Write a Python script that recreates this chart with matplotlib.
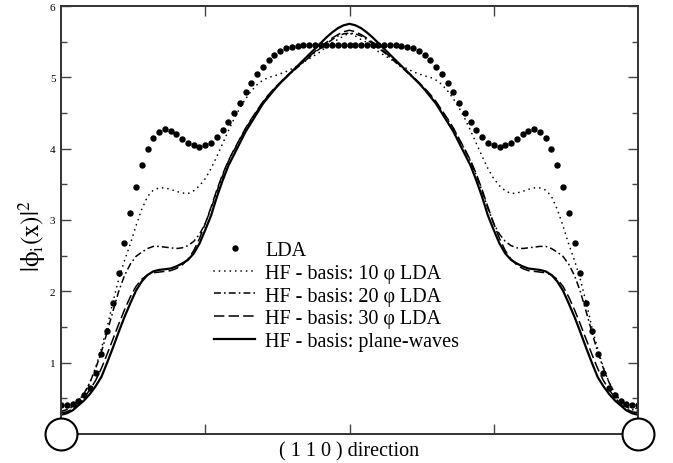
import numpy as np
import matplotlib
matplotlib.use("Agg")
import matplotlib.pyplot as plt

plt.rcParams['font.family'] = ['Liberation Serif', 'DejaVu Serif']
plt.rcParams['mathtext.fontset'] = 'stix'
plt.rcParams['lines.scale_dashes'] = False

# |phi_i(x)|^2 along the (1 1 0) direction, 101 samples from one atom to the next
lda = [0.41, 0.41, 0.42, 0.46, 0.54, 0.65, 0.85, 1.12, 1.45, 1.83,
       2.26, 2.68, 3.10, 3.46, 3.77, 3.99, 4.15, 4.23, 4.27, 4.25,
       4.21, 4.14, 4.08, 4.05, 4.03, 4.05, 4.08, 4.16, 4.26, 4.37,
       4.50, 4.64, 4.79, 4.92, 5.04, 5.15, 5.24, 5.32, 5.37, 5.41,
       5.43, 5.44, 5.45, 5.46, 5.46, 5.46, 5.46, 5.46, 5.46, 5.46,
       5.46,
       5.46, 5.46, 5.46, 5.46, 5.46, 5.46, 5.46, 5.45, 5.44, 5.43,
       5.41, 5.37, 5.32, 5.24, 5.15, 5.04, 4.92, 4.79, 4.64, 4.50,
       4.37, 4.26, 4.16, 4.08, 4.05, 4.03, 4.05, 4.08, 4.14, 4.21,
       4.25, 4.27, 4.23, 4.15, 3.99, 3.77, 3.46, 3.10, 2.68, 2.26,
       1.83, 1.45, 1.12, 0.85, 0.65, 0.54, 0.46, 0.42, 0.41, 0.41]

hf10 = [0.35, 0.37, 0.40, 0.47, 0.56, 0.72, 0.93, 1.20, 1.50, 1.85,
        2.17, 2.43, 2.66, 2.92, 3.15, 3.33, 3.42, 3.45, 3.45, 3.43,
        3.40, 3.38, 3.37, 3.41, 3.48, 3.58, 3.72, 3.89, 4.07, 4.25,
        4.42, 4.57, 4.70, 4.81, 4.90, 4.96, 5.00, 5.02, 5.05, 5.08,
        5.12, 5.16, 5.21, 5.26, 5.31, 5.36, 5.43, 5.49, 5.53, 5.58,
        5.62,
        5.58, 5.53, 5.49, 5.43, 5.36, 5.31, 5.26, 5.21, 5.16, 5.12,
        5.08, 5.05, 5.02, 5.00, 4.96, 4.90, 4.81, 4.70, 4.57, 4.42,
        4.25, 4.07, 3.89, 3.72, 3.58, 3.48, 3.41, 3.37, 3.38, 3.40,
        3.43, 3.45, 3.45, 3.42, 3.33, 3.15, 2.92, 2.66, 2.43, 2.17,
        1.85, 1.50, 1.20, 0.93, 0.72, 0.56, 0.47, 0.40, 0.37, 0.35]

hf20 = [0.32, 0.34, 0.38, 0.46, 0.57, 0.72, 0.92, 1.15, 1.43, 1.72,
        2.00, 2.22, 2.38, 2.49, 2.55, 2.60, 2.63, 2.63, 2.62, 2.61,
        2.60, 2.61, 2.64, 2.70, 2.80, 2.95, 3.16, 3.40, 3.62, 3.82,
        3.98, 4.13, 4.28, 4.41, 4.53, 4.65, 4.75, 4.84, 4.92, 5.00,
        5.07, 5.14, 5.21, 5.28, 5.35, 5.41, 5.47, 5.53, 5.58, 5.61,
        5.62,
        5.61, 5.58, 5.53, 5.47, 5.41, 5.35, 5.28, 5.21, 5.14, 5.07,
        5.00, 4.92, 4.84, 4.75, 4.65, 4.53, 4.41, 4.28, 4.13, 3.98,
        3.82, 3.62, 3.40, 3.16, 2.95, 2.80, 2.70, 2.64, 2.61, 2.60,
        2.61, 2.62, 2.63, 2.63, 2.60, 2.55, 2.49, 2.38, 2.22, 2.00,
        1.72, 1.43, 1.15, 0.92, 0.72, 0.57, 0.46, 0.38, 0.34, 0.32]

hf30 = [0.30, 0.31, 0.35, 0.42, 0.51, 0.62, 0.75, 0.92, 1.12, 1.33,
        1.54, 1.74, 1.92, 2.07, 2.17, 2.23, 2.26, 2.27, 2.28, 2.29,
        2.32, 2.37, 2.45, 2.57, 2.74, 2.95, 3.18, 3.42, 3.64, 3.83,
        3.99, 4.14, 4.29, 4.42, 4.54, 4.66, 4.76, 4.85, 4.93, 5.01,
        5.08, 5.15, 5.22, 5.29, 5.36, 5.43, 5.49, 5.55, 5.60, 5.64,
        5.66,
        5.64, 5.60, 5.55, 5.49, 5.43, 5.36, 5.29, 5.22, 5.15, 5.08,
        5.01, 4.93, 4.85, 4.76, 4.66, 4.54, 4.42, 4.29, 4.14, 3.99,
        3.83, 3.64, 3.42, 3.18, 2.95, 2.74, 2.57, 2.45, 2.37, 2.32,
        2.29, 2.28, 2.27, 2.26, 2.23, 2.17, 2.07, 1.92, 1.74, 1.54,
        1.33, 1.12, 0.92, 0.75, 0.62, 0.51, 0.42, 0.35, 0.31, 0.30]

hfpw = [0.27, 0.29, 0.33, 0.40, 0.47, 0.56, 0.67, 0.80, 1.00, 1.21,
        1.43, 1.64, 1.83, 2.01, 2.14, 2.23, 2.28, 2.30, 2.31, 2.32,
        2.35, 2.39, 2.44, 2.53, 2.67, 2.86, 3.06, 3.32, 3.55, 3.76,
        3.92, 4.08, 4.24, 4.37, 4.50, 4.63, 4.73, 4.83, 4.92, 5.00,
        5.08, 5.16, 5.24, 5.32, 5.40, 5.48, 5.56, 5.63, 5.69, 5.73,
        5.75,
        5.73, 5.69, 5.63, 5.56, 5.48, 5.40, 5.32, 5.24, 5.16, 5.08,
        5.00, 4.92, 4.83, 4.73, 4.63, 4.50, 4.37, 4.24, 4.08, 3.92,
        3.76, 3.55, 3.32, 3.06, 2.86, 2.67, 2.53, 2.44, 2.39, 2.35,
        2.32, 2.31, 2.30, 2.28, 2.23, 2.14, 2.01, 1.83, 1.64, 1.43,
        1.21, 1.00, 0.80, 0.67, 0.56, 0.47, 0.40, 0.33, 0.29, 0.27]

atom_x = [0.0, 1.0]
atom_y = [0.0, 0.0]

labels = ["LDA", "HF - basis: 10 \u03c6 LDA", "HF - basis: 20 \u03c6 LDA",
          "HF - basis: 30 \u03c6 LDA", "HF - basis: plane-waves"]

x = np.linspace(0.0, 1.0, len(lda))

fig = plt.figure(figsize=(6.73, 4.64), dpi=100)
ax = fig.add_axes([61/673, 1-435/464, (638-61)/673, (435-7)/464])

ax.plot(x, lda, linestyle='none', marker='o', ms=3.6, color='black', label=labels[0])
ax.plot(x, hf10, color='black', lw=1.2, linestyle=(0, (0.1, 3.8)),
        dash_capstyle='round', label=labels[1])
ax.plot(x, hf20, color='black', lw=1.1, linestyle=(0, (5, 2.2, 1.2, 2.2)), label=labels[2])
ax.plot(x, hf30, color='black', lw=1.1, linestyle=(0, (7.5, 3.0)), label=labels[3])
ax.plot(x, hfpw, color='black', lw=1.6, linestyle='-', label=labels[4])

ax.plot(atom_x, atom_y, linestyle='none', marker='o', ms=23, mfc='white',
        mec='black', mew=1.5, clip_on=False, zorder=10)

ax.set_xlim(0, 1)
ax.set_ylim(0, 6)
ax.set_xticks([0.25, 0.5, 0.75])
ax.set_xticklabels([])
ax.set_yticks([1, 2, 3, 4, 5, 6])
ax.set_yticks([0.5, 1.5, 2.5, 3.5, 4.5, 5.5], minor=True)
ax.tick_params(axis='both', which='major', direction='in', length=7, width=1,
               top=True, right=True, labelsize=8, pad=4, color='#444444')
ax.tick_params(axis='both', which='minor', direction='in', length=4, width=1,
               top=True, right=True, color='#444444')
for s in ax.spines.values():
    s.set_linewidth(1.4)
    s.set_color('#333333')

ax.set_xlabel("( 1 1 0 ) direction", fontsize=14.5, labelpad=1)
ax.set_ylabel(r"$\mathrm{|\phi_i(x)|^2}$", fontsize=18)
ax.yaxis.set_label_coords(-0.023, 0.465)

leg = ax.legend(loc='upper left', bbox_to_anchor=(214/673, 1-242/464),
                bbox_transform=fig.transFigure, frameon=False, fontsize=14.5,
                numpoints=1, handlelength=2.05, handletextpad=0.5,
                labelspacing=0.18, borderpad=0, borderaxespad=0)

fig.savefig("out.png", dpi=100)
